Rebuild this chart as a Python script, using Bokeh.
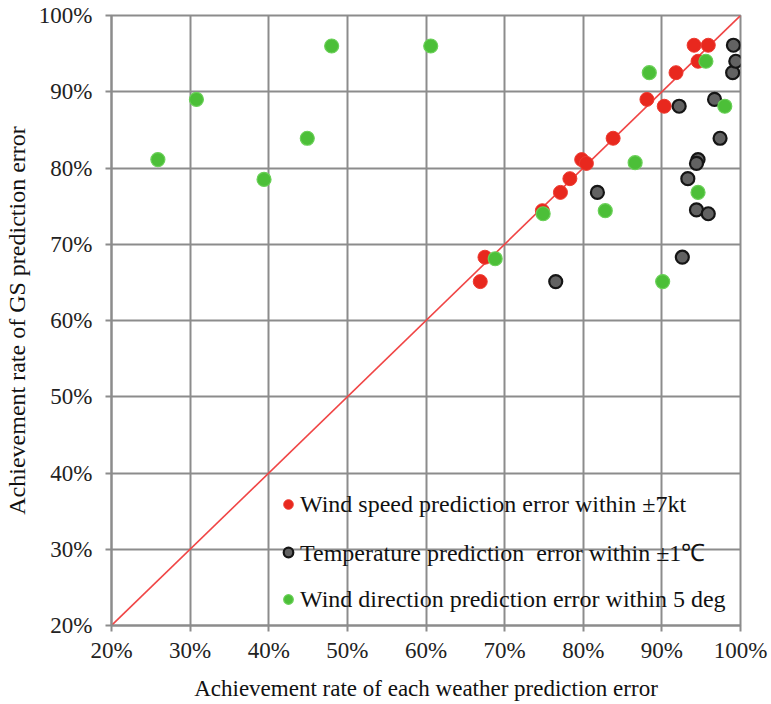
from bokeh.plotting import figure
from bokeh.models import Legend, LegendItem, PrintfTickFormatter, FixedTicker, Range1d
from bokeh.embed import file_html
from bokeh.resources import INLINE

# Achievement rate of each weather prediction error (x, %) vs GS prediction error (y, %)
wind_speed_x = [66.9, 67.5, 74.8, 77.1, 78.3, 79.8, 80.4, 83.8, 88.1, 90.3, 91.8, 94.6, 94.1, 95.9]
wind_speed_y = [65.1, 68.3, 74.4, 76.8, 78.6, 81.1, 80.6, 83.9, 89.0, 88.1, 92.5, 94.0, 96.1, 96.1]

temperature_x = [76.5, 81.8, 92.6, 92.2, 93.3, 94.4, 95.9, 94.6, 94.4, 97.4, 96.7, 99.0, 99.4, 99.1]
temperature_y = [65.1, 76.8, 68.3, 88.1, 78.6, 74.5, 74.0, 81.1, 80.6, 83.9, 89.0, 92.5, 94.0, 96.1]

wind_dir_x = [25.9, 30.8, 39.4, 44.9, 48.0, 60.6, 68.8, 74.9, 82.8, 86.6, 88.4, 90.1, 94.6, 95.6, 98.0]
wind_dir_y = [81.1, 89.0, 78.5, 83.9, 96.0, 96.0, 68.1, 74.0, 74.4, 80.7, 92.5, 65.1, 76.8, 94.0, 88.1]

diag = [20, 100]
ticks = [20, 30, 40, 50, 60, 70, 80, 90, 100]

labels = [
    "Wind speed prediction error within \u00b17kt",
    "Temperature prediction  error within \u00b11\u2103",
    "Wind direction prediction error within 5 deg",
]

FONT = "Liberation Serif"
GRID = "#8c8c8c"

p = figure(width=771, height=704, output_backend="svg", toolbar_location=None,
           x_range=Range1d(20, 100), y_range=Range1d(20, 100),
           min_border_left=110, min_border_right=31, min_border_top=15, min_border_bottom=79)

p.outline_line_color = GRID
p.outline_line_width = 2
for g in (p.xgrid, p.ygrid):
    g.grid_line_color = GRID
    g.grid_line_width = 2
    g.ticker = FixedTicker(ticks=ticks)

for ax in (p.xaxis, p.yaxis):
    ax.ticker = FixedTicker(ticks=ticks)
    ax.formatter = PrintfTickFormatter(format="%d%%")
    ax.axis_line_color = GRID
    ax.axis_line_width = 2
    ax.major_tick_line_color = GRID
    ax.major_tick_line_width = 2
    ax.major_tick_in = 0
    ax.major_tick_out = 6
    ax.minor_tick_line_color = None
    ax.major_label_text_font = FONT
    ax.major_label_text_font_size = "23px"
    ax.major_label_text_color = "#222222"
    ax.axis_label_text_font = FONT
    ax.axis_label_text_font_style = "normal"
    ax.axis_label_text_color = "#111111"

p.xaxis.axis_label_text_font_size = "23px"
p.yaxis.axis_label_text_font_size = "24px"
p.xaxis.axis_label = "Achievement rate of each weather prediction error"
p.yaxis.axis_label = "Achievement rate of GS prediction error"
p.yaxis.major_label_standoff = 13
p.xaxis.major_label_standoff = 6
p.yaxis.axis_label_standoff = 6
p.xaxis.axis_label_standoff = 10

p.line(diag, diag, line_color="#f04545", line_width=1.6)

r1 = p.scatter(wind_speed_x, wind_speed_y, size=14, fill_color="#e8281e", line_color="#ee3a30", line_width=1)
r2 = p.scatter(temperature_x, temperature_y, size=13, fill_color="#626262", line_color="#151515", line_width=2.2)
r3 = p.scatter(wind_dir_x, wind_dir_y, size=14, fill_color="#4cbf38", line_color="#6ad058", line_width=1.2)

legend = Legend(items=[LegendItem(label=labels[0], renderers=[r1]),
                       LegendItem(label=labels[1], renderers=[r2]),
                       LegendItem(label=labels[2], renderers=[r3])],
                location=(165, 12), padding=0, margin=0, spacing=17,
                glyph_width=24, glyph_height=28, label_standoff=0,
                label_text_font=FONT, label_text_font_size="24px", label_text_color="#111111",
                background_fill_alpha=0, border_line_alpha=0)
p.add_layout(legend)

open("out.html", "w").write(file_html(p, INLINE))
